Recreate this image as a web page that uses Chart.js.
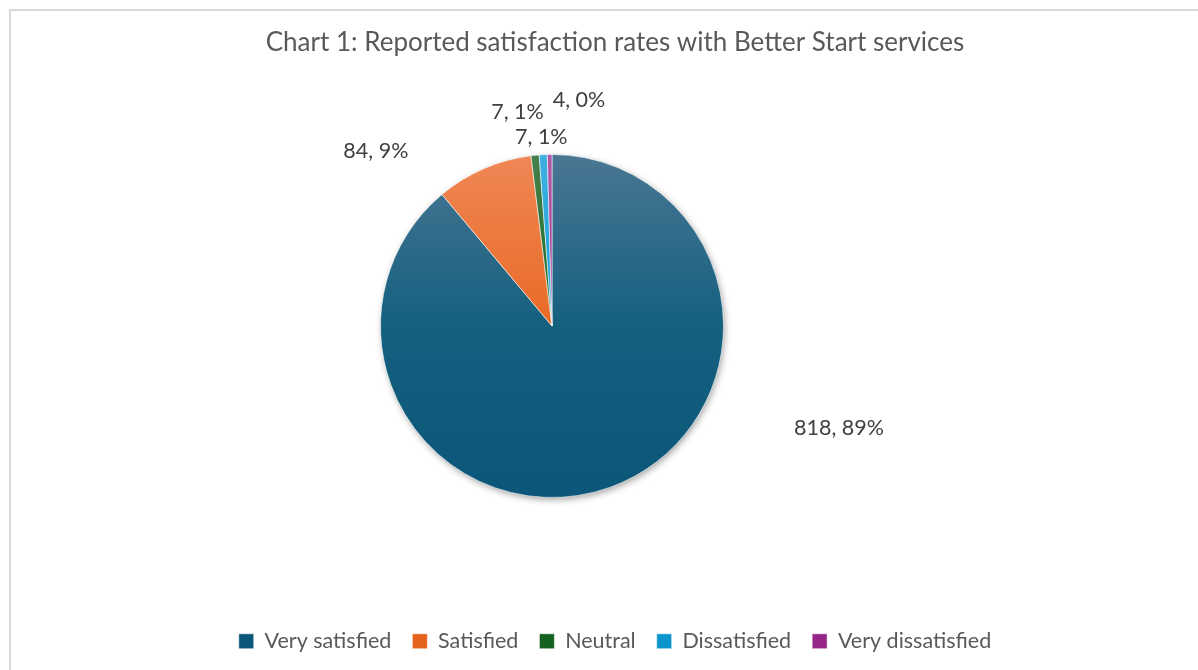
<!DOCTYPE html>
<html>
<head>
<meta charset="utf-8">
<title>Chart 1: Reported satisfaction rates with Better Start services</title>
<script src="https://cdn.jsdelivr.net/npm/chart.js@4/dist/chart.umd.min.js"></script>
<style>
  html, body { margin: 0; padding: 0; background: #ffffff; overflow: hidden; }
  #frame {
    position: absolute; left: 9px; top: 9px; width: 1400px; height: 900px;
    border-left: 2px solid #d9d9d9; border-top: 2px solid #d9d9d9;
  }
  #wrap { position: absolute; left: 0; top: 0; width: 1198px; height: 670px; }
</style>
</head>
<body>
<div id="frame"></div>
<div id="wrap"><canvas id="chart" width="1198" height="670"></canvas></div>
<script>
// Survey responses
const categories = ['Very satisfied', 'Satisfied', 'Neutral', 'Dissatisfied', 'Very dissatisfied'];
const responses = [818, 84, 7, 7, 4];

// Slice colours: light tint at the top, base shade towards the bottom
const sliceTop = ['#4a7693', '#ef8756', '#46804c', '#3fb0e0', '#b05aa6'];
const sliceMid = ['#14607f', '#e96a26', '#1b6d26', '#109fd6', '#a02b93'];
const sliceBottom = ['#0b5679', '#e5621b', '#15611f', '#0b95cc', '#952688'];

const FONT = "Lato, 'Open Sans', 'DejaVu Sans', sans-serif";

// Extra layout room around the plot area (right of the pie and under it)
const SPACE_RIGHT = 126;
const SPACE_BELOW = 111.5;

const spacerPlugin = {
  id: 'spacers',
  beforeInit(chart) {
    const make = (position, size) => {
      const horizontal = position === 'top' || position === 'bottom';
      return {
        position, weight: 0, fullSize: false, options: {},
        left: 0, top: 0, right: 0, bottom: 0, width: 0, height: 0,
        isHorizontal() { return horizontal; },
        update(maxWidth, maxHeight) {
          this.width = horizontal ? maxWidth : size;
          this.height = horizontal ? size : maxHeight;
        },
        draw() {}
      };
    };
    Chart.layouts.addBox(chart, make('right', SPACE_RIGHT));
    Chart.layouts.addBox(chart, make('bottom', SPACE_BELOW));
  }
};

// Soft drop shadow under the whole pie
const pieShadowPlugin = {
  id: 'pieShadow',
  beforeDatasetsDraw(chart) {
    const arc = chart.getDatasetMeta(0).data[0];
    if (!arc) return;
    const p = arc.getProps(['x', 'y', 'outerRadius'], true);
    const ctx = chart.ctx;
    ctx.save();
    ctx.shadowColor = 'rgba(0,0,0,0.38)';
    ctx.shadowBlur = 7;
    ctx.shadowOffsetX = 1.5;
    ctx.shadowOffsetY = 2.5;
    ctx.fillStyle = '#ffffff';
    ctx.beginPath();
    ctx.arc(p.x, p.y, p.outerRadius - 0.5, 0, Math.PI * 2);
    ctx.fill();
    ctx.restore();
  }
};

// "value, percent" labels placed around each slice
const sliceLabelPlugin = {
  id: 'sliceLabels',
  afterDatasetsDraw(chart, args, opts) {
    const ctx = chart.ctx;
    const meta = chart.getDatasetMeta(0);
    const data = chart.data.datasets[0].data;
    const total = data.reduce((a, b) => a + b, 0);
    ctx.save();
    ctx.font = opts.font;
    ctx.fillStyle = opts.color;
    ctx.textAlign = 'center';
    ctx.textBaseline = 'middle';
    meta.data.forEach((arc, i) => {
      const p = arc.getProps(['x', 'y', 'startAngle', 'endAngle', 'outerRadius'], true);
      const place = opts.placement[i];
      const mid = (p.startAngle + p.endAngle) / 2 + place.shift * Math.PI / 180;
      const r = p.outerRadius * place.dist;
      const pct = Math.round(data[i] / total * 100);
      ctx.fillText(data[i] + ', ' + pct + '%', p.x + Math.cos(mid) * r, p.y + Math.sin(mid) * r);
    });
    ctx.restore();
  }
};

const gradientCache = {};
function sliceFill(context) {
  const i = context.dataIndex;
  const area = context.chart.chartArea;
  if (!area) return sliceMid[i];
  const key = i + ':' + area.top + ':' + area.bottom;
  if (!gradientCache[key]) {
    const g = context.chart.ctx.createLinearGradient(0, area.top, 0, area.bottom);
    g.addColorStop(0, sliceTop[i]);
    g.addColorStop(0.5, sliceMid[i]);
    g.addColorStop(1, sliceBottom[i]);
    gradientCache[key] = g;
  }
  return gradientCache[key];
}

new Chart(document.getElementById('chart'), {
  type: 'pie',
  data: {
    labels: categories,
    datasets: [{
      data: responses,
      backgroundColor: sliceFill,
      borderColor: 'rgba(255,255,255,0.55)',
      borderWidth: 1
    }]
  },
  plugins: [spacerPlugin, pieShadowPlugin, sliceLabelPlugin],
  options: {
    responsive: false,
    animation: false,
    events: [],
    layout: { padding: { left: 32, right: 0, top: 0, bottom: 8 } },
    plugins: {
      title: {
        display: true,
        text: 'Chart 1: Reported satisfaction rates with Better Start services',
        color: '#595959',
        font: { family: FONT, size: 26, weight: 'normal' },
        padding: { top: 27.5, bottom: 95.3 }
      },
      legend: {
        display: true,
        position: 'bottom',
        labels: {
          color: '#595959',
          font: { family: FONT, size: 21.5 },
          boxWidth: 15,
          boxHeight: 15,
          padding: 21
        }
      },
      tooltip: { enabled: false },
      sliceLabels: {
        font: "21.5px " + FONT,
        color: '#404040',
        placement: [
          { shift: -50.5, dist: 1.776 },
          { shift: -21.7, dist: 1.448 },
          { shift: -3.5, dist: 1.262 },
          { shift: -0.3, dist: 1.105 },
          { shift: 7.6, dist: 1.326 }
        ]
      }
    }
  }
});
</script>
</body>
</html>
